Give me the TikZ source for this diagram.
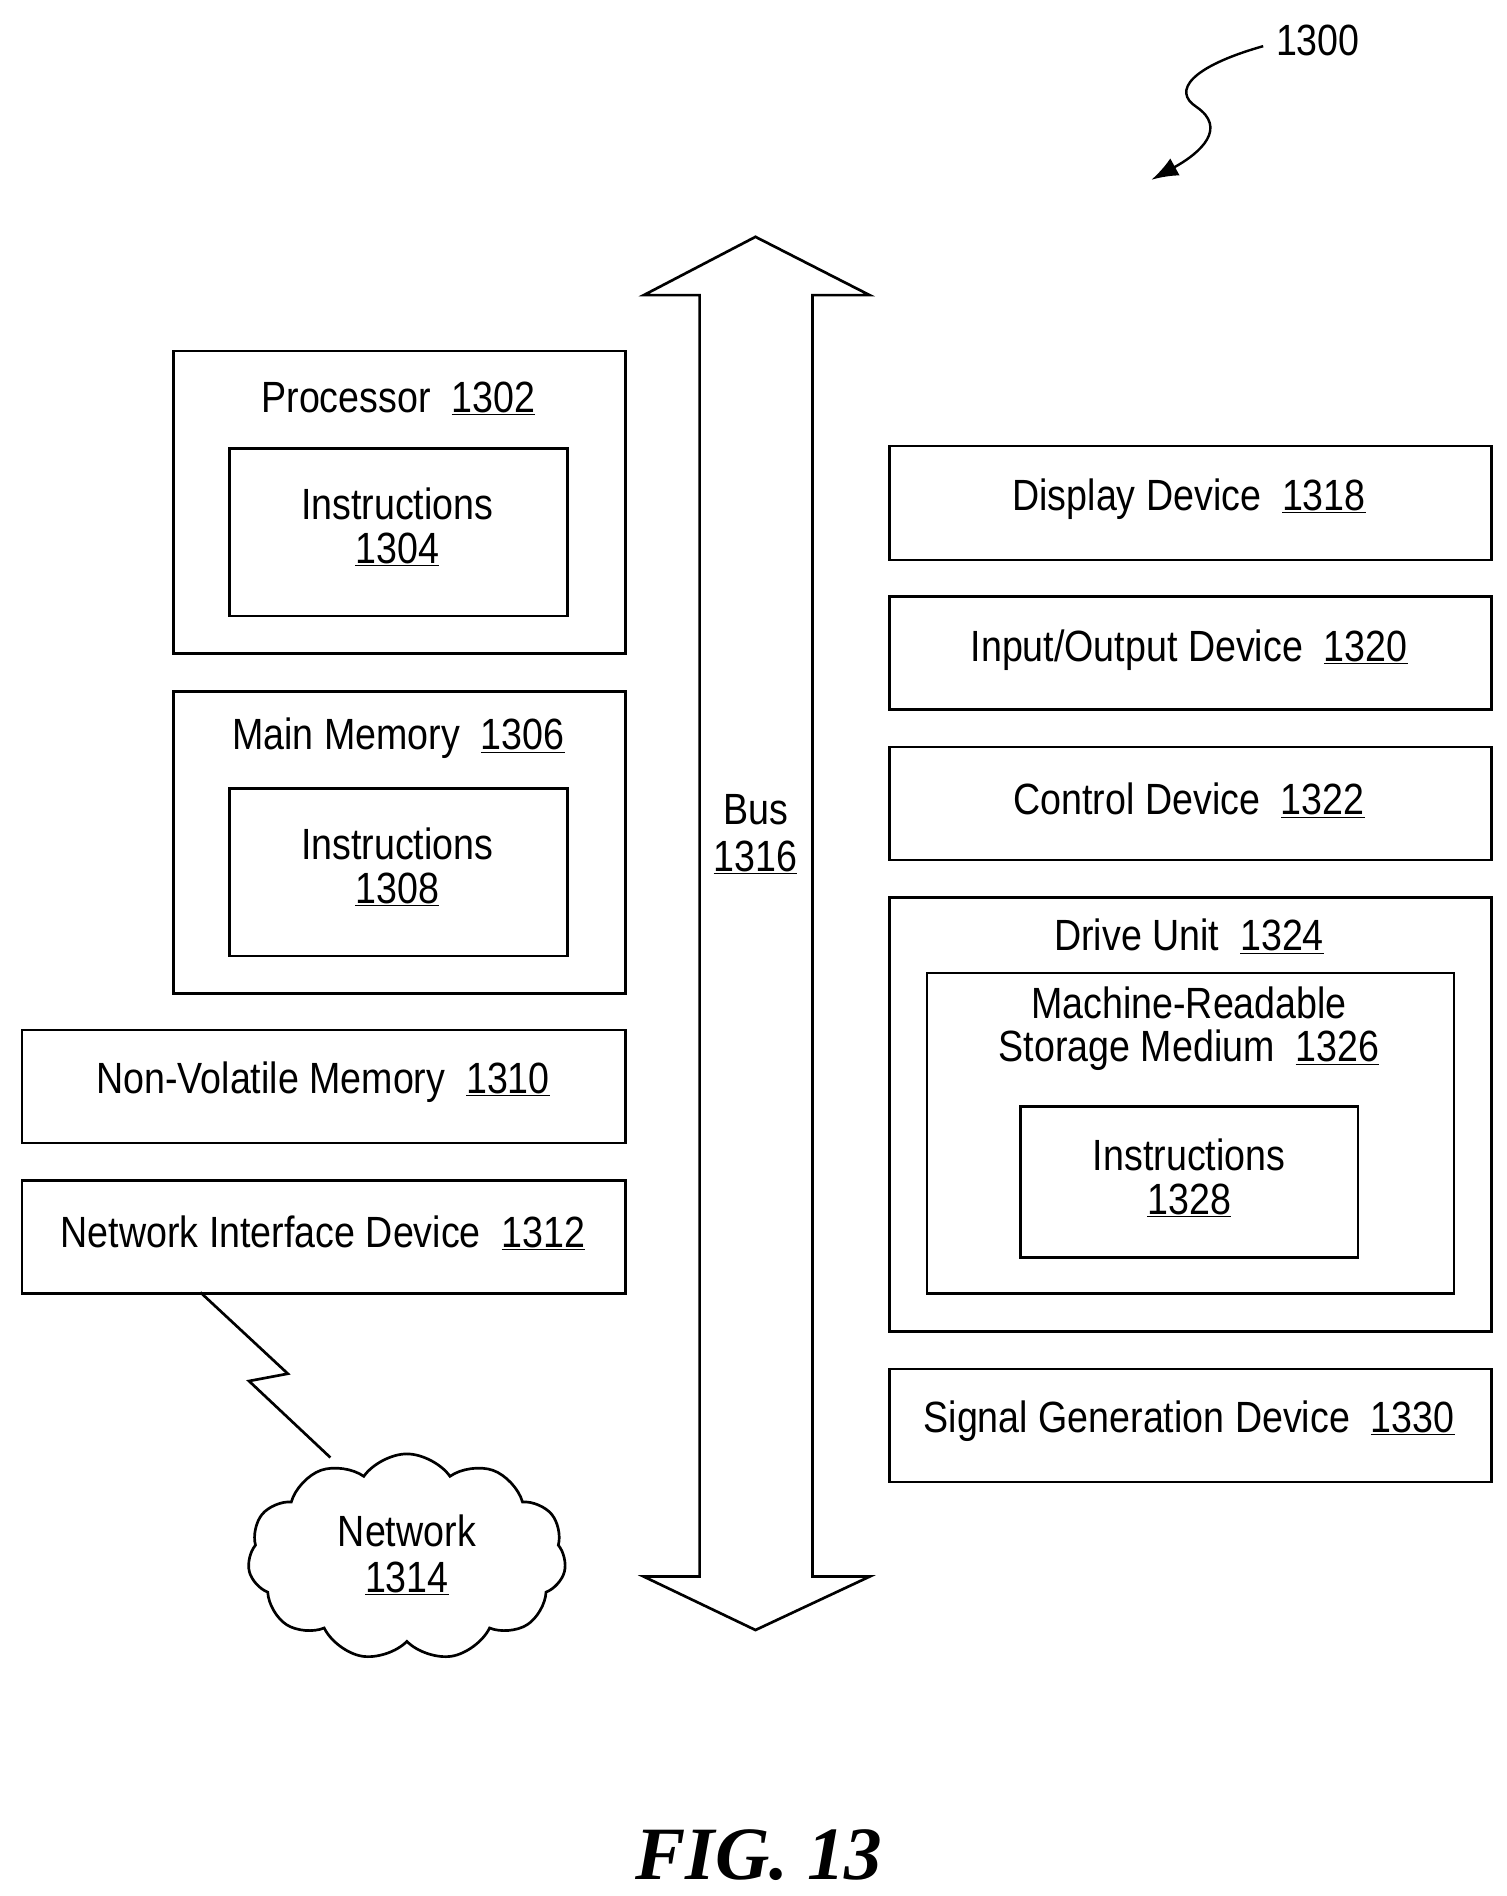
\documentclass[tikz,border=0pt]{standalone}
\usepackage{fontspec}
\setmainfont[FakeStretch=0.86]{Liberation Sans}
\newfontfamily\figfont{Liberation Serif}
\usetikzlibrary{shapes.symbols,arrows.meta}
\begin{document}
\begin{tikzpicture}[x=1pt,y=-1pt,
 bx/.style={draw,line width=2.2pt,anchor=north west,inner sep=0pt},
 lb/.style={font=\fontsize{36}{40}\selectfont,align=center,inner sep=0pt},
 ln/.style={line width=2.2pt}]
\useasboundingbox (0,0) rectangle (1240,1561);
\newcommand{\bxx}[5]{\node[bx,minimum width=#3-#1,minimum height=#4-#2] (#5) at (#1,#2) {};}
\bxx{142}{288}{514}{537}{proc}
\bxx{188}{368}{466}{506}{pin}
\bxx{142}{568}{514}{817}{mm}
\bxx{188}{648}{466}{786}{min}
\bxx{17}{847}{514}{940}{nvm}
\bxx{17}{971}{514}{1064}{nid}
\bxx{731}{366}{1227}{460}{disp}
\bxx{731}{490}{1227}{583}{io}
\bxx{731}{614}{1227}{707}{ctrl}
\bxx{731}{738}{1227}{1095}{drive}
\bxx{762}{800}{1196}{1064}{mrsm}
\bxx{839}{910}{1117}{1034}{din}
\bxx{731}{1126}{1227}{1219}{sig}
\node[lb] (t1) at (328,328) {Processor\ \ \underline{1302}};
\node[lb] (t2) at (327,434) {Instructions\\[-4pt]\underline{1304}};
\node[lb] (t3) at (328,608) {Main Memory\ \ \underline{1306}};
\node[lb] (t4) at (327,714) {Instructions\\[-4pt]\underline{1308}};
\node[lb] (t5) at (266,891) {Non-Volatile Memory\ \ \underline{1310}};
\node[lb] (t6) at (266,1015) {Network Interface Device\ \ \underline{1312}};
\node[lb] (t7) at (979,411) {Display Device\ \ \underline{1318}};
\node[lb] (t8) at (979,535) {Input/Output Device\ \ \underline{1320}};
\node[lb] (t9) at (979,659) {Control Device\ \ \underline{1322}};
\node[lb] (t10) at (979,771) {Drive Unit\ \ \underline{1324}};
\node[lb] (t11) at (979,847) {Machine-Readable\\[-4pt]Storage Medium\ \ \underline{1326}};
\node[lb] (t12) at (979,970) {Instructions\\[-4pt]\underline{1328}};
\node[lb] (t13) at (979,1170) {Signal Generation Device\ \ \underline{1330}};
% bus
\draw[ln,fill=white] (622,195) -- (716,243) -- (669,243) -- (669,1298) -- (716,1298) -- (622,1342) -- (530,1298) -- (576,1298) -- (576,243) -- (530,243) -- cycle;
\node[lb] (bus) at (622,687) {Bus\\[-2pt]\underline{1316}};
% cloud
\node[cloud,draw,line width=2.2pt,cloud puffs=11,cloud puff arc=110,aspect=1.55,minimum width=262,minimum height=170] (net) at (335,1282) {};
\node[lb] (nt) at (335,1280) {Network\\[-2pt]\underline{1314}};
\coordinate (z1) at (237,1131);
\coordinate (z2) at (205,1137);
\draw[ln] (165,1064) -- (z1) -- (z2) -- (272,1200);
% ref
\node[font=\fontsize{36}{40}\selectfont,inner sep=0pt] (ref) at (1085,33) {1300};
\coordinate (rt) at (948,148);
\draw[line width=2pt,-{Latex[length=22pt,width=16pt]}] (1040,38) .. controls (980,55) and (965,75) .. (985,88) .. controls (1010,105) and (990,125) .. (rt);
\node[font=\figfont\bfseries\itshape\fontsize{62}{66}\selectfont,inner sep=0pt] (fig) at (625,1527) {FIG. 13};
\end{tikzpicture}
\end{document}
